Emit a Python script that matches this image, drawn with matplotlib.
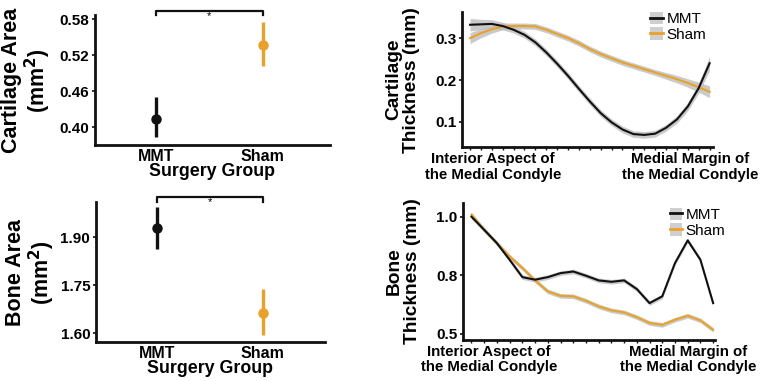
import matplotlib
matplotlib.use('Agg')
import matplotlib.pyplot as plt
import numpy as np
from matplotlib.lines import Line2D
from matplotlib.patches import Patch

plt.rcParams['font.family'] = ['Liberation Sans', 'DejaVu Sans']
plt.rcParams['font.weight'] = 'bold'
plt.rcParams['axes.labelweight'] = 'bold'
plt.rcParams['mathtext.default'] = 'bf'

# ---- data ----
groups = ['MMT', 'Sham']
group_colors = ['#111111', '#E8A22C']

cart_area_mean = [0.413, 0.538]
cart_area_low = [0.383, 0.502]
cart_area_high = [0.450, 0.575]

bone_area_mean = [1.928, 1.663]
bone_area_low = [1.863, 1.594]
bone_area_high = [1.994, 1.737]

cart_mmt = [0.332, 0.333, 0.334, 0.329, 0.320, 0.308, 0.290, 0.266, 0.239, 0.210,
            0.179, 0.149, 0.121, 0.099, 0.082, 0.071, 0.069, 0.072, 0.086, 0.106,
            0.137, 0.181, 0.240]
cart_sham = [0.300, 0.312, 0.321, 0.328, 0.329, 0.329, 0.328, 0.320, 0.310, 0.300,
             0.288, 0.274, 0.262, 0.252, 0.242, 0.234, 0.226, 0.218, 0.210, 0.202,
             0.193, 0.183, 0.172]
cart_mmt_ci = [0.015, 0.012, 0.010, 0.009, 0.008, 0.008, 0.008, 0.008, 0.008, 0.008,
               0.008, 0.008, 0.008, 0.008, 0.008, 0.008, 0.008, 0.008, 0.008, 0.009,
               0.010, 0.012, 0.017]
cart_sham_ci = [0.013, 0.011, 0.009, 0.008, 0.007, 0.007, 0.007, 0.007, 0.007, 0.007,
                0.007, 0.007, 0.007, 0.007, 0.007, 0.007, 0.007, 0.007, 0.008, 0.009,
                0.010, 0.012, 0.014]

bone_mmt = [1.000, 0.944, 0.887, 0.816, 0.742, 0.731, 0.742, 0.759, 0.766, 0.748,
            0.728, 0.722, 0.728, 0.691, 0.631, 0.660, 0.802, 0.899, 0.816, 0.631]
bone_sham = [1.009, 0.944, 0.887, 0.830, 0.781, 0.728, 0.681, 0.662, 0.660, 0.641,
             0.617, 0.600, 0.591, 0.571, 0.546, 0.538, 0.560, 0.577, 0.557, 0.517]
bone_ci = [0.010] * 20

region_labels = ['Interior Aspect of\nthe Medial Condyle', 'Medial Margin of\nthe Medial Condyle']

fig = plt.figure(figsize=(7.6, 3.81), dpi=100)
fig.patch.set_facecolor('white')

ax_ca = fig.add_axes([0.125, 0.619, 0.309, 0.341])
ax_ba = fig.add_axes([0.126, 0.102, 0.301, 0.367])
ax_ct = fig.add_axes([0.608, 0.614, 0.330, 0.354])
ax_bt = fig.add_axes([0.609, 0.108, 0.332, 0.360])


def style(ax):
    for s in ['top', 'right']:
        ax.spines[s].set_visible(False)
    for s in ['left', 'bottom']:
        ax.spines[s].set_linewidth(2.0)
        ax.spines[s].set_color('#111111')
    ax.tick_params(axis='both', length=2, width=1.2, color='#111111', labelsize=11, pad=2)


def area_panel(ax, means, lows, highs, ylim, yticks, ylabel, ylab_x):
    style(ax)
    xs = np.arange(1, len(groups) + 1)
    for x, m, lo, hi, c in zip(xs, means, lows, highs, group_colors):
        ax.errorbar([x], [m], yerr=[[m - lo], [hi - m]], fmt='o', color=c,
                    markersize=6.5, elinewidth=2.4, capsize=0)
    ax.set_xticks(xs)
    ax.set_xticklabels(groups, fontsize=11.5)
    ax.tick_params(axis='x', length=0, pad=3)
    ax.set_yticks(yticks)
    ax.set_yticklabels(['%.2f' % t for t in yticks])
    ax.set_ylim(*ylim)
    ax.set_xlabel('Surgery Group', fontsize=12.8, labelpad=-1)
    ax.set_ylabel(ylabel, fontsize=15.5, linespacing=1.05)
    ax.yaxis.set_label_coords(ylab_x, 0.5)
    # significance bracket
    trans = ax.get_xaxis_transform()
    ax.plot([xs[0], xs[0], xs[1], xs[1]], [1.005, 1.035, 1.035, 1.005], color='#111111',
            lw=1.6, transform=trans, clip_on=False)
    ax.text(xs.mean(), 1.035, '*', ha='center', va='top', fontsize=8,
            fontweight='normal', transform=trans)


area_panel(ax_ca, cart_area_mean, cart_area_low, cart_area_high, (0.37, 0.587),
           [0.40, 0.46, 0.52, 0.58], 'Cartilage Area\n(mm$^2$)', -0.178)
ax_ca.set_xlim(0.43, 2.63)
area_panel(ax_ba, bone_area_mean, bone_area_low, bone_area_high, (1.572, 2.01),
           [1.60, 1.75, 1.90], 'Bone Area\n(mm$^2$)', -0.17)
ax_ba.set_xlim(0.425, 2.58)


def thick_panel(ax, mmt, sham, ci_m, ci_s, ylim, yticks, yticklabels, ylabel, xlim,
                ylab_x, lab_x, leg_anchor):
    style(ax)
    x = np.arange(len(mmt))
    mmt = np.array(mmt)
    sham = np.array(sham)
    ci_m = np.array(ci_m)
    ci_s = np.array(ci_s)
    ax.fill_between(x, sham - ci_s, sham + ci_s, color='#BDBDBD', alpha=0.8, lw=0)
    ax.fill_between(x, mmt - ci_m, mmt + ci_m, color='#BDBDBD', alpha=0.8, lw=0)
    ax.plot(x, sham, color=group_colors[1], lw=1.5)
    ax.plot(x, mmt, color=group_colors[0], lw=1.5)
    ax.set_xlim(*xlim)
    ax.set_ylim(*ylim)
    ax.set_xticks(x)
    ax.set_xticklabels([])
    ax.tick_params(axis='x', length=2.5, width=1.0)
    ax.set_yticks(yticks)
    ax.set_yticklabels(yticklabels)
    ax.set_ylabel(ylabel, fontsize=13.8, linespacing=1.05)
    ax.yaxis.set_label_coords(ylab_x, 0.5)
    for fx, lab in zip(lab_x, region_labels):
        ax.text(fx, -0.04, lab, transform=ax.transAxes, ha='center', va='top',
                fontsize=10.8, linespacing=1.1)
    handles = [(Patch(facecolor='#CFCFCF', edgecolor='none'), Line2D([], [], color=c, lw=2))
               for c in group_colors]
    ax.legend(handles, groups, loc='upper left', bbox_to_anchor=leg_anchor, frameon=False,
              prop={'weight': 'normal', 'size': 11}, handlelength=0.8, handleheight=0.9,
              handletextpad=0.25, labelspacing=0.05, borderpad=0)


thick_panel(ax_ct, cart_mmt, cart_sham, cart_mmt_ci, cart_sham_ci, (0.04, 0.362),
            [0.1, 0.2, 0.3], ['0.1', '0.2', '0.3'], 'Cartilage\nThickness (mm)',
            (-0.73, 22.3), -0.167, [0.124, 0.908], (0.72, 1.06))
thick_panel(ax_bt, bone_mmt, bone_sham, bone_ci, bone_ci, (0.474, 1.06),
            [0.5, 0.75, 1.0], ['0.5', '0.8', '1.0'], 'Bone\nThickness (mm)',
            (-0.68, 19.16), -0.167, [0.103, 0.893], (0.79, 1.02))

fig.savefig('out.png', dpi=100)
